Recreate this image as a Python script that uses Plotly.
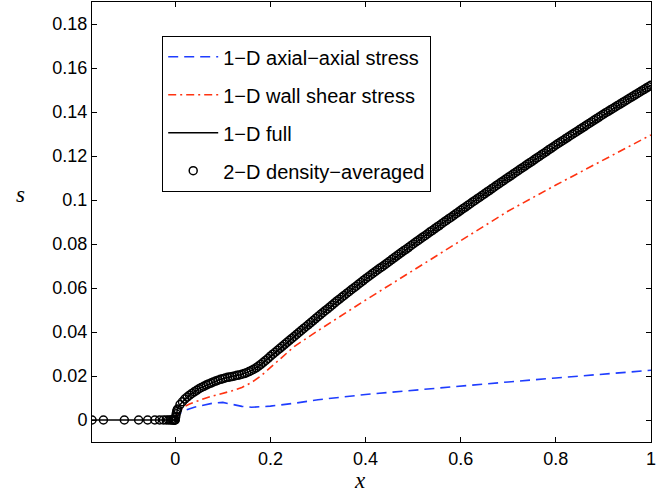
import plotly.graph_objects as go

# ---------------- data ----------------
# x-grid of the 2-D solution (left of the origin it is stretched)
x_neg = [-0.175, -0.151, -0.107, -0.077, -0.058, -0.043, -0.033, -0.025,
         -0.019, -0.014, -0.010, -0.007, -0.005, -0.003, -0.002, -0.001]
s_neg = [0.0] * 16

x_pos = [0.000, 0.001, 0.002, 0.003, 0.004, 0.005,
         0.010, 0.015, 0.020, 0.025, 0.030, 0.035, 0.040, 0.045, 0.050, 0.055,
         0.060, 0.065, 0.070, 0.075, 0.080, 0.085, 0.090, 0.095, 0.100, 0.105,
         0.110, 0.115, 0.120, 0.125, 0.130, 0.135, 0.140, 0.145, 0.150, 0.155,
         0.160, 0.165, 0.170, 0.175, 0.180, 0.185, 0.190, 0.195, 0.200, 0.205,
         0.210, 0.215, 0.220, 0.225, 0.230, 0.235, 0.240, 0.245, 0.250, 0.255,
         0.260, 0.265, 0.270, 0.275, 0.280, 0.285, 0.290, 0.295, 0.300, 0.305,
         0.310, 0.315, 0.320, 0.325, 0.330, 0.335, 0.340, 0.345, 0.350, 0.355,
         0.360, 0.365, 0.370, 0.375, 0.380, 0.385, 0.390, 0.395, 0.400, 0.405,
         0.410, 0.415, 0.420, 0.425, 0.430, 0.435, 0.440, 0.445, 0.450, 0.455,
         0.460, 0.465, 0.470, 0.475, 0.480, 0.485, 0.490, 0.495, 0.500, 0.505,
         0.510, 0.515, 0.520, 0.525, 0.530, 0.535, 0.540, 0.545, 0.550, 0.555,
         0.560, 0.565, 0.570, 0.575, 0.580, 0.585, 0.590, 0.595, 0.600, 0.605,
         0.610, 0.615, 0.620, 0.625, 0.630, 0.635, 0.640, 0.645, 0.650, 0.655,
         0.660, 0.665, 0.670, 0.675, 0.680, 0.685, 0.690, 0.695, 0.700, 0.705,
         0.710, 0.715, 0.720, 0.725, 0.730, 0.735, 0.740, 0.745, 0.750, 0.755,
         0.760, 0.765, 0.770, 0.775, 0.780, 0.785, 0.790, 0.795, 0.800, 0.805,
         0.810, 0.815, 0.820, 0.825, 0.830, 0.835, 0.840, 0.845, 0.850, 0.855,
         0.860, 0.865, 0.870, 0.875, 0.880, 0.885, 0.890, 0.895, 0.900, 0.905,
         0.910, 0.915, 0.920, 0.925, 0.930, 0.935, 0.940, 0.945, 0.950, 0.955,
         0.960, 0.965, 0.970, 0.975, 0.980, 0.985, 0.990, 0.995, 1.000]

s_pos = [0.0000, 0.0015, 0.0028, 0.0038, 0.0045, 0.0050,
         0.0070, 0.0083, 0.0095, 0.0104, 0.0113, 0.0121, 0.0128, 0.0135, 0.0142, 0.0148,
         0.0153, 0.0159, 0.0164, 0.0168, 0.0173, 0.0177, 0.0181, 0.0185, 0.0188, 0.0191,
         0.0194, 0.0196, 0.0198, 0.0200, 0.0203, 0.0205, 0.0208, 0.0211, 0.0215, 0.0220,
         0.0225, 0.0231, 0.0237, 0.0245, 0.0253, 0.0262, 0.0271, 0.0280, 0.0290, 0.0299,
         0.0308, 0.0317, 0.0326, 0.0335, 0.0344, 0.0353, 0.0362, 0.0371, 0.0380, 0.0389,
         0.0398, 0.0407, 0.0416, 0.0425, 0.0434, 0.0443, 0.0452, 0.0461, 0.0470, 0.0479,
         0.0488, 0.0497, 0.0505, 0.0514, 0.0523, 0.0532, 0.0541, 0.0549, 0.0558, 0.0566,
         0.0575, 0.0583, 0.0592, 0.0600, 0.0608, 0.0617, 0.0625, 0.0634, 0.0642, 0.0650,
         0.0658, 0.0666, 0.0674, 0.0682, 0.0690, 0.0697, 0.0705, 0.0713, 0.0721, 0.0729,
         0.0737, 0.0745, 0.0753, 0.0761, 0.0769, 0.0776, 0.0784, 0.0792, 0.0800, 0.0808,
         0.0815, 0.0823, 0.0831, 0.0838, 0.0846, 0.0854, 0.0861, 0.0869, 0.0877, 0.0884,
         0.0892, 0.0900, 0.0907, 0.0915, 0.0922, 0.0930, 0.0938, 0.0945, 0.0953, 0.0961,
         0.0968, 0.0976, 0.0983, 0.0991, 0.0998, 0.1006, 0.1013, 0.1021, 0.1028, 0.1036,
         0.1043, 0.1051, 0.1058, 0.1066, 0.1073, 0.1081, 0.1088, 0.1096, 0.1103, 0.1110,
         0.1118, 0.1125, 0.1132, 0.1140, 0.1147, 0.1154, 0.1162, 0.1169, 0.1176, 0.1184,
         0.1191, 0.1198, 0.1206, 0.1213, 0.1220, 0.1228, 0.1235, 0.1242, 0.1250, 0.1257,
         0.1264, 0.1271, 0.1278, 0.1285, 0.1292, 0.1299, 0.1306, 0.1313, 0.1320, 0.1327,
         0.1334, 0.1341, 0.1348, 0.1355, 0.1362, 0.1369, 0.1376, 0.1383, 0.1390, 0.1397,
         0.1403, 0.1410, 0.1416, 0.1423, 0.1430, 0.1436, 0.1443, 0.1449, 0.1456, 0.1463,
         0.1469, 0.1476, 0.1482, 0.1489, 0.1496, 0.1502, 0.1509, 0.1515, 0.1522]

x_2d = x_neg + x_pos
s_2d = s_neg + s_pos

# 1-D full model (coincides with the 2-D result)
x_full = x_neg + x_pos
s_full = s_neg + s_pos

# 1-D wall shear stress model
x_red = [0, 0.005, 0.01, 0.02, 0.03, 0.04, 0.06, 0.08, 0.10, 0.12, 0.14, 0.16,
         0.18, 0.20, 0.25, 0.30, 0.35, 0.40, 0.50, 0.60, 0.70, 0.80, 0.90, 1.00]
s_red = [0, 0.0030, 0.0045, 0.0062, 0.0073, 0.0082, 0.0097, 0.0110, 0.0121, 0.0133,
         0.0148, 0.0170, 0.0200, 0.0238, 0.0334, 0.0406, 0.0476, 0.0545, 0.0680,
         0.0815, 0.0950, 0.1068, 0.1182, 0.1296]

# 1-D axial-axial stress model
x_blue = [0, 0.005, 0.01, 0.02, 0.04, 0.06, 0.08, 0.10, 0.12, 0.14, 0.16, 0.18,
          0.20, 0.25, 0.30, 0.40, 0.50, 0.60, 0.70, 0.80, 0.90, 1.00]
s_blue = [0, 0.0022, 0.0031, 0.0043, 0.0058, 0.0069, 0.0077, 0.0080, 0.0072, 0.0062,
          0.0058, 0.0059, 0.0063, 0.0076, 0.0092, 0.0116, 0.0136, 0.0155, 0.0173,
          0.0191, 0.0209, 0.0226]

x_ticks = [0, 0.2, 0.4, 0.6, 0.8, 1]
x_ticklabels = ["0", "0.2", "0.4", "0.6", "0.8", "1"]
y_ticks = [0, 0.02, 0.04, 0.06, 0.08, 0.1, 0.12, 0.14, 0.16, 0.18]
y_ticklabels = ["0", "0.02", "0.04", "0.06", "0.08", "0.1", "0.12", "0.14", "0.16", "0.18"]

names = ["1\u2212D axial\u2212axial stress", "1\u2212D wall shear stress",
         "1\u2212D full", "2\u2212D density\u2212averaged"]

# ---------------- figure ----------------
FONT = "Liberation Sans, Arial, Helvetica, sans-serif"
fig = go.Figure()

fig.add_trace(go.Scatter(x=x_blue, y=s_blue, mode="lines", name=names[0],
                         legendgroup="a",
                         line=dict(color="#1f3dff", width=1.6, dash="10px,6px")))
fig.add_trace(go.Scatter(x=x_red, y=s_red, mode="lines", name=names[1],
                         legendgroup="b",
                         line=dict(color="#ff3311", width=1.6, dash="8px,4px,2px,4px")))
fig.add_trace(go.Scatter(x=x_full, y=s_full, mode="lines", name=names[2],
                         legendgroup="c",
                         line=dict(color="black", width=1.5)))
fig.add_trace(go.Scatter(x=x_2d, y=s_2d, mode="markers", name=names[3],
                         legendgroup="d",
                         marker=dict(symbol="circle-open", size=8, color="black",
                                     line=dict(width=1.5, color="black"))))

axis_common = dict(showline=True, linecolor="black", linewidth=1, mirror="allticks",
                   ticks="inside", ticklen=5, tickcolor="black", tickwidth=1,
                   showgrid=False, zeroline=False,
                   tickfont=dict(family=FONT, size=18, color="black"))

fig.update_xaxes(range=[-0.175, 1.0], tickvals=x_ticks, ticktext=x_ticklabels,
                 **axis_common)
fig.update_yaxes(range=[-0.01, 0.19], tickvals=y_ticks, ticktext=y_ticklabels,
                 **axis_common)

fig.update_layout(
    width=667, height=494,
    margin=dict(l=92, r=16, t=2, b=52),
    paper_bgcolor="white", plot_bgcolor="white",
    font=dict(family=FONT, size=18, color="black"),
    showlegend=True,
    legend=dict(x=(162 - 92) / 559, y=(442 - 36) / 440, xanchor="left", yanchor="top",
                bgcolor="white", bordercolor="black", borderwidth=1.2,
                traceorder="grouped", tracegroupgap=9, itemwidth=50,
                entrywidth=290, entrywidthmode="pixels",
                font=dict(family=FONT, size=20, color="black")),
    annotations=[
        dict(text="<i>x</i>", xref="paper", yref="paper",
             x=(360 - 92) / 559, y=-(480 - 442) / 440,
             xanchor="center", yanchor="middle", showarrow=False,
             font=dict(family="Liberation Serif, Times New Roman, serif", size=23)),
        dict(text="<i>s</i>", xref="paper", yref="paper",
             x=-(92 - 20) / 559, y=(442 - 195) / 440,
             xanchor="center", yanchor="middle", showarrow=False,
             font=dict(family="Liberation Serif, Times New Roman, serif", size=23)),
    ],
)

fig.write_html("out.html", config={"displayModeBar": False},
               post_script="document.body.style.margin='0';document.body.style.padding='0';")
